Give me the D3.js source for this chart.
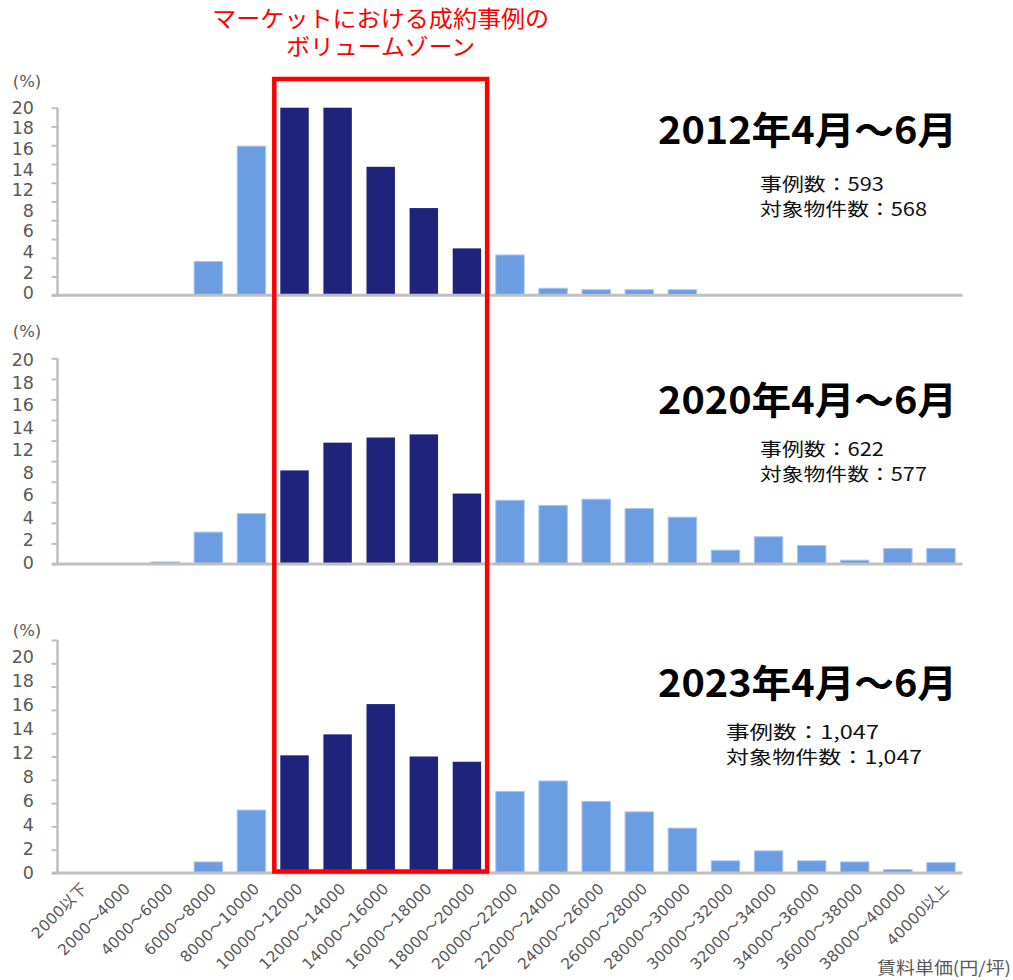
<!DOCTYPE html>
<html><head><meta charset="utf-8">
<script src="https://cdn.jsdelivr.net/npm/d3@7"></script>
<style>
html,body{margin:0;padding:0;background:#fff;}
svg{display:block;}
</style></head>
<body>
<svg id="chart" width="1013" height="980"></svg>
<script>
// ---------- data ----------
const categories = ["2000以下","2000～4000","4000～6000","6000～8000","8000～10000","10000～12000","12000～14000","14000～16000","16000～18000","18000～20000","20000～22000","22000～24000","24000～26000","26000～28000","28000～30000","30000～32000","32000～34000","34000～36000","36000～38000","38000～40000","40000以上"];
const values2012 = [0,0,0,3.6,15.9,20,20,13.7,9.3,5.0,4.3,0.75,0.6,0.6,0.6,0,0,0,0,0,0];
const values2020 = [0,0,0.2,3.1,4.9,9.1,11.8,12.3,12.6,6.85,6.2,5.7,6.3,5.4,4.55,1.35,2.65,1.8,0.37,1.5,1.5];
const values2023 = [0,0,0,0.95,5.4,10.1,11.9,14.5,10.0,9.55,7.0,7.9,6.15,5.25,3.85,1.05,1.9,1.05,0.95,0.3,0.9];
const volumeZone = ["10000～12000","12000～14000","14000～16000","16000～18000","18000～20000"];
const yTickValues = [0,2,4,6,8,10,12,14,16,18,20];
const yTickLabels = ["20","18","16","14","12","8","6","4","2","0"];
const periodTitles = ["2012年4月～6月","2020年4月～6月","2023年4月～6月"];
const caseCounts = ["事例数：593","事例数：622","事例数：1,047"];
const propertyCounts = ["対象物件数：568","対象物件数：577","対象物件数：1,047"];
const zoneNote = ["マーケットにおける成約事例の","ボリュームゾーン"];
const xAxisTitle = "賃料単価(円/坪)";
const unitLabel = "(%)";

// ---------- layout ----------
const svg = d3.select("#chart");
const axisColor = "#bfbfbf", textGray = "#595959";
const darkColor = "#1f237c", lightColor = "#6b9de2";
const latin = "'DejaVu Sans', 'Noto Sans CJK JP', sans-serif";
const cjk = "'Noto Sans CJK JP', 'Noto Sans', sans-serif";

const x = d3.scaleBand().domain(categories).range([57.5, 962.5]).paddingInner(0.34).paddingOuter(0.17);

const panels = [
  {values: values2012, top: 107.7, base: 295.3, lblTop: 107.5, lblBot: 293, pctY: 81, titleY: 130, subX: 760, subY: [184, 209], subW: [124, 167]},
  {values: values2020, top: 358.3, base: 564,   lblTop: 360,   lblBot: 562.3, pctY: 331, titleY: 400, subX: 760, subY: [449, 474], subW: [124, 167]},
  {values: values2023, top: 640,   base: 873,   lblTop: 656.7, lblBot: 873, pctY: 630, titleY: 683, subX: 726, subY: [732, 757], subW: [153, 196]}
];

panels.forEach((p, i) => {
  const g = svg.append("g");
  const y = d3.scaleLinear().domain([0, 20]).range([p.base, p.top]);

  // y axis (ticks only, labels placed separately)
  const yAxis = g.append("g").attr("transform", "translate(57.5,0)")
    .call(d3.axisLeft(y).tickValues(yTickValues).tickSize(6).tickFormat(""));
  yAxis.select(".domain").attr("stroke", axisColor).attr("stroke-width", 2.5).attr("d", `M0,${p.top}V${p.base}`);
  yAxis.selectAll(".tick line").attr("stroke", axisColor).attr("stroke-width", 2);

  // tick labels
  const ly = d3.scalePoint().domain(yTickLabels).range([p.lblTop, p.lblBot]);
  g.selectAll(".ylab").data(yTickLabels).join("text")
    .attr("x", 34).attr("y", d => ly(d)).attr("dy", "0.36em")
    .attr("text-anchor", "end").attr("font-family", latin).attr("font-size", 17.5)
    .attr("fill", textGray).text(d => d);

  g.append("text").attr("x", 27).attr("y", p.pctY).attr("dy", "0.35em")
    .attr("text-anchor", "middle").attr("font-family", latin).attr("font-size", 16.5)
    .attr("fill", textGray).text(unitLabel);

  // bars
  g.selectAll(".bar").data(categories.map((c, k) => ({c, v: p.values[k]}))).join("rect")
    .attr("x", d => x(d.c)).attr("width", x.bandwidth())
    .attr("y", d => y(d.v)).attr("height", d => y(0) - y(d.v))
    .attr("fill", d => volumeZone.includes(d.c) ? darkColor : lightColor)
    .attr("stroke", d => volumeZone.includes(d.c) ? "none" : "#a9c6f0")
    .attr("stroke-width", d => d.v > 0 ? 1 : 0);

  // x axis baseline
  const xAxis = g.append("g").attr("transform", `translate(0,${p.base})`)
    .call(d3.axisBottom(x).tickSize(0).tickFormat(""));
  xAxis.select(".domain").attr("stroke", axisColor).attr("stroke-width", 3)
    .attr("d", `M52,0H962.5`);

  // titles
  g.append("text").attr("x", 658).attr("y", p.titleY).attr("dy", "0.36em")
    .attr("font-family", cjk).attr("font-weight", 700).attr("font-size", 38)
    .attr("textLength", 299).attr("lengthAdjust", "spacingAndGlyphs")
    .attr("fill", "#000").text(periodTitles[i]);
  g.append("text").attr("x", p.subX).attr("y", p.subY[0]).attr("dy", "0.36em")
    .attr("font-family", cjk).attr("font-size", 18.5).attr("fill", "#111")
    .attr("textLength", p.subW[0]).attr("lengthAdjust", "spacingAndGlyphs").text(caseCounts[i]);
  g.append("text").attr("x", p.subX).attr("y", p.subY[1]).attr("dy", "0.36em")
    .attr("font-family", cjk).attr("font-size", 18.5).attr("fill", "#111")
    .attr("textLength", p.subW[1]).attr("lengthAdjust", "spacingAndGlyphs").text(propertyCounts[i]);
});

// x tick labels (bottom panel only)
const lastBase = panels[2].base;
svg.selectAll(".xlab").data(categories).join("text")
  .attr("transform", d => `translate(${x(d) + x.bandwidth() / 2 + 5},${lastBase + 13}) rotate(-45)`)
  .attr("text-anchor", "end").attr("dy", "0.35em")
  .attr("font-family", latin).attr("font-size", 15.5).attr("fill", textGray).text(d => d);

svg.append("text").attr("x", 1011).attr("y", 968).attr("dy", "0.35em")
  .attr("text-anchor", "end").attr("font-family", cjk).attr("font-size", 17)
  .attr("textLength", 134).attr("lengthAdjust", "spacingAndGlyphs")
  .attr("fill", textGray).text(xAxisTitle);

// volume zone box
const bx0 = x(volumeZone[0]) - 6;
const bx1 = x(volumeZone[volumeZone.length - 1]) + x.bandwidth() + 6;
svg.append("rect").attr("x", bx0).attr("y", 79).attr("width", bx1 - bx0).attr("height", 871.5 - 79)
  .attr("fill", "none").attr("stroke", "#ff0000").attr("stroke-width", 4.5);

const note = svg.append("text").attr("text-anchor", "middle").attr("font-family", cjk)
  .attr("font-size", 22.5).attr("fill", "#ff0000");
note.selectAll("tspan").data(zoneNote).join("tspan")
  .attr("x", (bx0 + bx1) / 2).attr("y", (d, k) => 19 + k * 28).attr("dy", "0.36em")
  .attr("textLength", (d, k) => k === 0 ? 337 : 189).attr("lengthAdjust", "spacingAndGlyphs")
  .text(d => d);
</script>
</body></html>
